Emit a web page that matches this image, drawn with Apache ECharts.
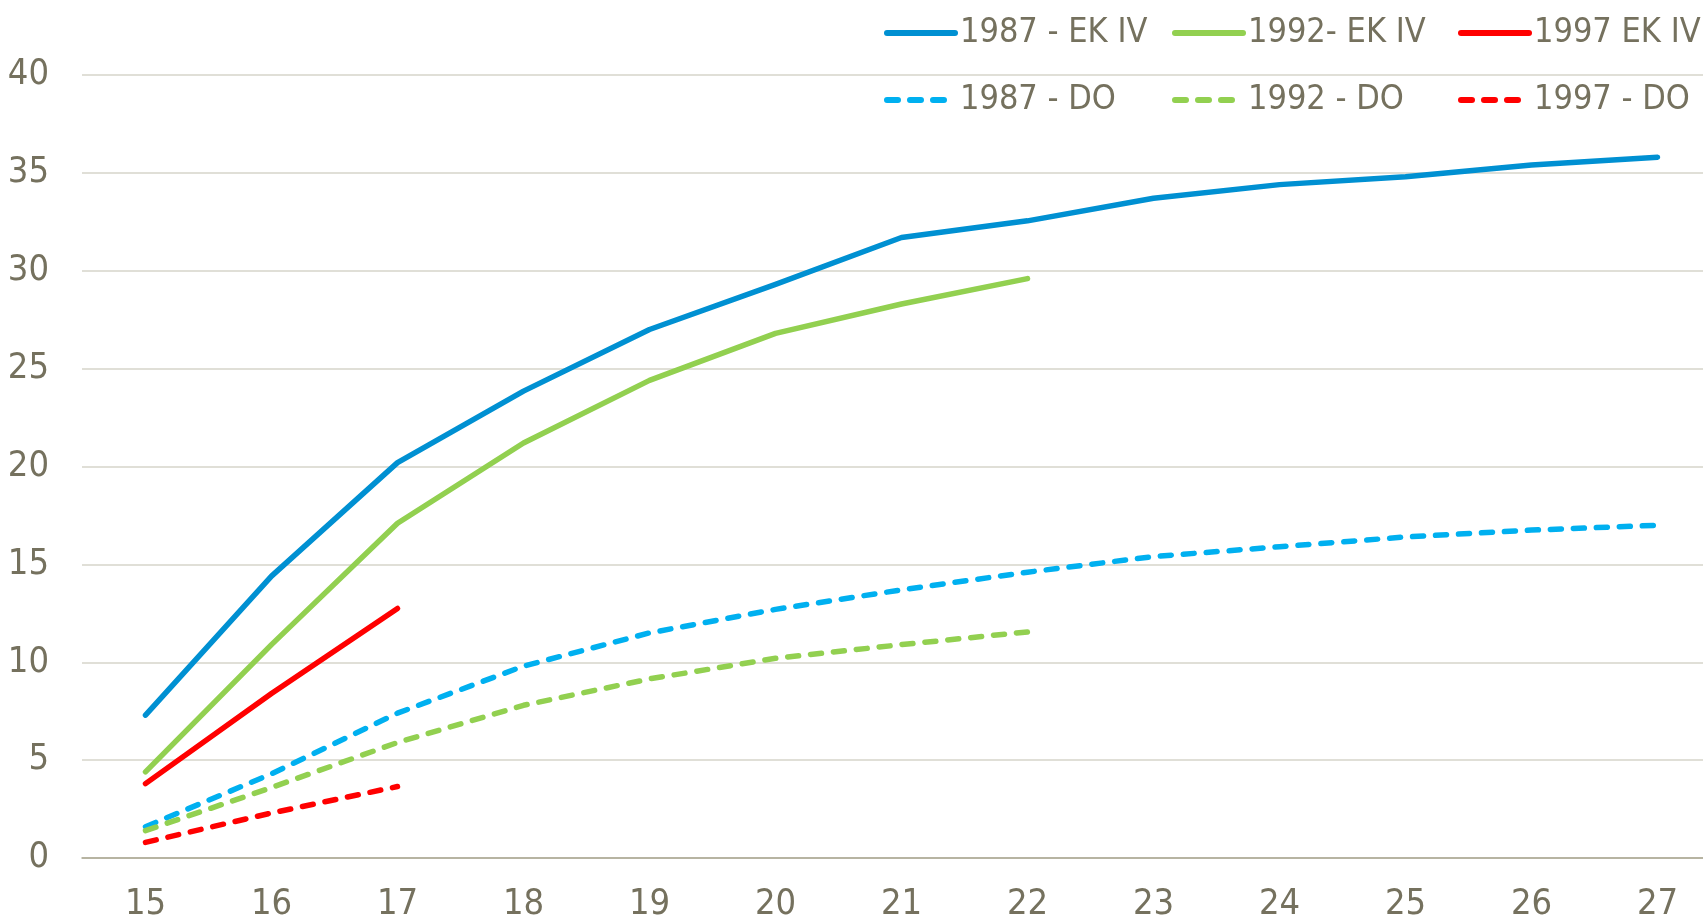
<!DOCTYPE html>
<html lang="en">
<head>
    <meta charset="UTF-8">
    <title>EK IV / DO</title>
    <script src="https://cdn.jsdelivr.net/npm/echarts@6/dist/echarts.min.js"></script>
    <style>
        html, body { margin: 0; padding: 0; background: #fff; }
    </style>
</head>
<body>
<div id="main" style="width: 1703px;height:921px;"></div>
</body>
</html>

<script type="text/javascript">
    // ages on the x axis
    var ages = ['15', '16', '17', '18', '19', '20', '21', '22', '23', '24', '25', '26', '27'];

    // cumulative values per cohort
    var ek1987 = [7.3, 14.4, 20.2, 23.85, 27.0, 29.3, 31.7, 32.55, 33.7, 34.4, 34.8, 35.4, 35.8];
    var ek1992 = [4.4, 10.9, 17.1, 21.2, 24.4, 26.8, 28.3, 29.6];
    var ek1997 = [3.8, 8.4, 12.75];
    var do1987 = [1.6, 4.3, 7.4, 9.8, 11.5, 12.7, 13.7, 14.6, 15.4, 15.9, 16.4, 16.75, 17.0];
    var do1992 = [1.4, 3.6, 5.9, 7.8, 9.15, 10.2, 10.9, 11.55];
    var do1997 = [0.8, 2.3, 3.65];

    var textColor = '#75715e';
    var font = "'Liberation Sans Narrow', 'DejaVu Sans Condensed', 'Roboto Condensed', sans-serif";

    function lineSeries(name, data, color, dashed) {
        return {
            name: name,
            type: 'line',
            data: data,
            xAxisIndex: 0,
            yAxisIndex: 0,
            symbol: 'none',
            smooth: false,
            lineStyle: {
                color: color,
                width: 5.5,
                cap: 'round',
                join: 'round',
                type: dashed ? [11, 12] : 'solid'
            },
            itemStyle: { color: color }
        };
    }

    function legendCol(left, names) {
        return {
            left: left,
            top: 11,
            orient: 'vertical',
            itemWidth: 68,
            itemHeight: 14,
            itemGap: 33,
            itemStyle: { opacity: 0 },
            lineStyle: { width: 6 },
            textStyle: { color: textColor, fontSize: 34, fontFamily: font },
            data: names
        };
    }

    var myChart = echarts.init(document.getElementById('main'));
    var option = {
        animation: false,
        legend: [
            legendCol(879, ['1987 - EK IV', '1987 - DO']),
            legendCol(1167, ['1992- EK IV', '1992 - DO']),
            legendCol(1453, ['1997 EK IV', '1997 - DO'])
        ],
        grid: [
            // plotting area: first and last category sit on the label centres
            { left: 145.5, top: 75, width: 1512, height: 783, outerBoundsMode: 'none', containLabel: false },
            // full-width frame for the gridlines and value labels
            { left: 82, top: 75, right: 0, height: 783, outerBoundsMode: 'none', containLabel: false }
        ],
        xAxis: [
            {
                type: 'category',
                gridIndex: 0,
                data: ages,
                boundaryGap: false,
                axisLine: { show: false },
                axisTick: { show: false },
                splitLine: { show: false },
                axisLabel: { color: textColor, fontSize: 36, fontFamily: font, margin: 29 }
            },
            {
                type: 'value',
                gridIndex: 1,
                min: 0,
                max: 1,
                axisLine: { show: true, onZero: false, lineStyle: { color: '#a9a791', width: 1.5 } },
                axisTick: { show: false },
                axisLabel: { show: false },
                splitLine: { show: false }
            }
        ],
        yAxis: [
            {
                type: 'value',
                gridIndex: 0,
                min: 0,
                max: 40,
                interval: 5,
                show: false
            },
            {
                type: 'value',
                gridIndex: 1,
                min: 0,
                max: 40,
                interval: 5,
                axisLine: { show: false },
                axisTick: { show: false },
                axisLabel: { color: textColor, fontSize: 36, fontFamily: font, margin: 33 },
                splitLine: { lineStyle: { color: '#d6d4ca', width: 1.5 } }
            }
        ],
        series: [
            lineSeries('1987 - EK IV', ek1987, '#0090d2', false),
            lineSeries('1992- EK IV', ek1992, '#92d050', false),
            lineSeries('1997 EK IV', ek1997, '#ff0000', false),
            lineSeries('1987 - DO', do1987, '#00b0f0', true),
            lineSeries('1992 - DO', do1992, '#92d050', true),
            lineSeries('1997 - DO', do1997, '#ff0000', true)
        ]
    };
    myChart.setOption(option);
</script>
